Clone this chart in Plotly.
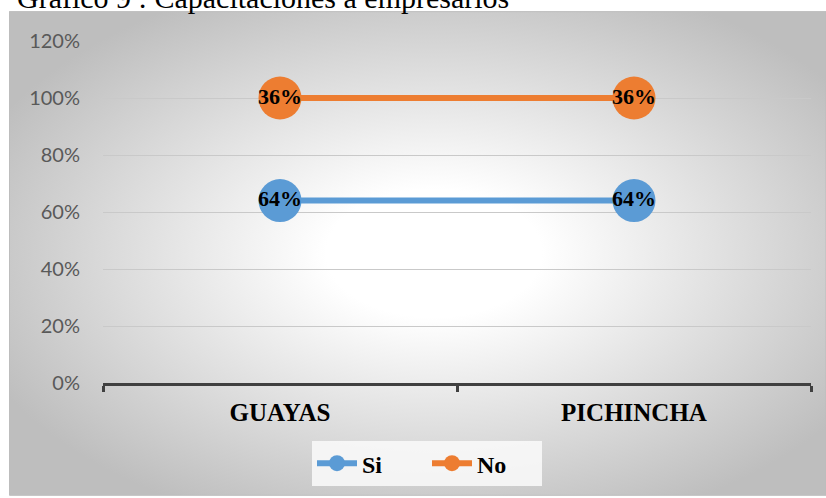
import base64
import plotly.graph_objects as go

# Data
categories = ["GUAYAS", "PICHINCHA"]
si_values = [0.64, 0.64]
no_values = [0.36, 0.36]
si_labels = ["64%", "64%"]
no_labels = ["36%", "36%"]
y_ticks = [0, 0.2, 0.4, 0.6, 0.8, 1.0, 1.2]

W, H = 826, 498
# plot area in pixels
PL, PR, PT, PB = 103, 811, 41, 385

def px_x(x):
    return (x - PL) / (PR - PL)

def px_y(y):
    return (PB - y) / (PB - PT)

# soft radial background for the chart frame
svg = """<svg xmlns='http://www.w3.org/2000/svg' width='817' height='487' viewBox='0 0 817 487' preserveAspectRatio='none'>
<defs><radialGradient id='g' cx='52%' cy='50%' r='60%' fx='52%' fy='50%'>
<stop offset='0' stop-color='#ffffff'/>
<stop offset='0.22' stop-color='#ffffff'/>
<stop offset='1' stop-color='#bebebe'/>
</radialGradient></defs>
<rect width='817' height='487' fill='url(#g)'/>
</svg>"""
bg_uri = "data:image/svg+xml;base64," + base64.b64encode(svg.encode()).decode()

serif = "Liberation Serif, Times New Roman, serif"
label_font = dict(family=serif, size=22, color="black", weight="bold")

fig = go.Figure()
fig.add_trace(go.Scatter(
    x=categories, y=si_values, name="Si", stackgroup="one", fill="none",
    mode="lines+markers+text", text=si_labels, textposition="middle center",
    textfont=label_font,
    line=dict(color="#5b9bd5", width=6),
    marker=dict(size=43, color="#5b9bd5"),
    cliponaxis=False, hoverinfo="skip",
))
fig.add_trace(go.Scatter(
    x=categories, y=no_values, name="No", stackgroup="one", fill="none",
    mode="lines+markers+text", text=no_labels, textposition="middle center",
    textfont=label_font,
    line=dict(color="#ed7d31", width=6),
    marker=dict(size=43, color="#ed7d31"),
    cliponaxis=False, hoverinfo="skip",
))

fig.update_layout(
    width=W, height=H,
    margin=dict(l=PL, r=W - PR, t=PT, b=H - PB, pad=0),
    paper_bgcolor="white",
    plot_bgcolor="rgba(0,0,0,0)",
    showlegend=True,
    legend=dict(
        orientation="h", x=px_x(427), y=px_y(466), xanchor="center", yanchor="middle",
        font=dict(family=serif, size=24, color="black", weight="bold"),
        bgcolor="rgba(250,250,250,0.85)", itemwidth=40,
        entrywidth=60, entrywidthmode="pixels",
        traceorder="normal",
    ),
    xaxis=dict(
        type="category", categoryorder="array", categoryarray=categories,
        range=[-0.5, 1.5], showgrid=False, zeroline=False,
        showline=True, linecolor="#404040", linewidth=3,
        ticks="outside", tickson="boundaries", ticklen=6, tickwidth=3, tickcolor="#404040",
        tickfont=dict(family=serif, size=25, color="black", weight="bold"),
        ticklabelstandoff=5, fixedrange=True,
    ),
    yaxis=dict(
        range=[0, 1.2], tickvals=y_ticks, tickformat=".0%",
        showgrid=True, gridcolor="#c9c9c9", gridwidth=1,
        zeroline=False, showline=False, ticks="",
        tickfont=dict(family="Lato", size=20, color="#595959"),
        ticklabelstandoff=22, fixedrange=True,
    ),
    images=[dict(
        source=bg_uri, xref="paper", yref="paper",
        x=px_x(9), y=px_y(11), sizex=px_x(826) - px_x(9), sizey=px_y(11) - px_y(498),
        xanchor="left", yanchor="top", sizing="stretch", layer="below",
    )],
    shapes=[dict(
        type="rect", xref="paper", yref="paper",
        x0=px_x(9.5), x1=px_x(826), y0=px_y(498), y1=px_y(11.5),
        line=dict(color="#bdbdbd", width=1), fillcolor="rgba(0,0,0,0)", layer="below",
    )],
    annotations=[dict(
        text="Gráfico 9 : Capacitaciones a empresarios",
        xref="paper", yref="paper", x=px_x(15), y=px_y(16),
        xanchor="left", yanchor="bottom", showarrow=False,
        font=dict(family=serif, size=30, color="black"),
    )],
)

fig.write_html("out.html")
